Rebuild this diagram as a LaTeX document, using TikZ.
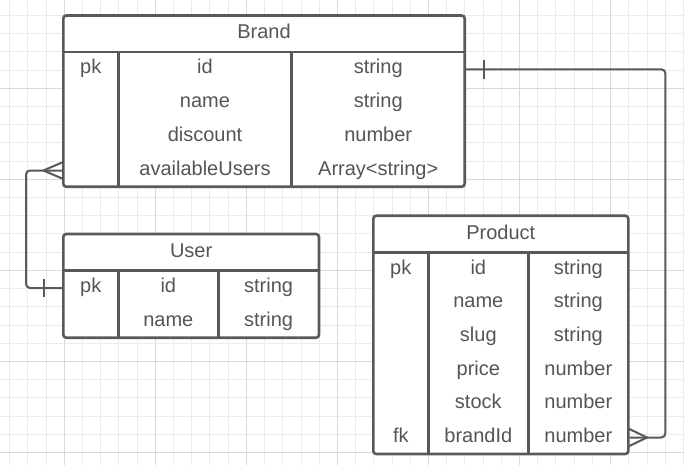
\documentclass[tikz,border=0pt]{standalone}
\usepackage{fontspec}
\setmainfont{Liberation Sans}
\definecolor{ink}{HTML}{595959}
\definecolor{txt}{HTML}{555555}
\definecolor{gmin}{HTML}{EBEBEB}
\definecolor{gmaj}{HTML}{D8D8D8}
\begin{document}
\begin{tikzpicture}[x=1pt,y=-1pt,
  tbl/.style={draw=ink, fill=white, line width=2.6pt, rounded corners=3pt, inner sep=0pt},
  lbl/.style={anchor=base, text=txt, font=\fontsize{20}{24}\selectfont, inner sep=0pt},
  div/.style={draw=ink, line width=2.6pt},
  conn/.style={draw=ink, line width=2pt},
  gridminor/.style={draw=gmin, line width=1pt},
  gridmajor/.style={draw=gmaj, line width=1pt}]
\useasboundingbox (0,0) rectangle (684,465);
\fill[white] (0,0) rectangle (684,465);
\begin{scope}
\clip (0,0) rectangle (684,465);
\foreach \i in {-4,...,34} \draw[gridminor] ({64.3+\i*18.21},0) -- ({64.3+\i*18.21},465);
\foreach \i in {-5,...,21} \draw[gridminor] (0,{88.3+\i*18.21}) -- (684,{88.3+\i*18.21});
\foreach \i in {0,...,6} \draw[gridmajor] ({64.3+\i*91.05},0) -- ({64.3+\i*91.05},465);
\foreach \i in {-1,...,4} \draw[gridmajor] (0,{88.3+\i*91.05}) -- (684,{88.3+\i*91.05});
\end{scope}

% Brand
\node[tbl, minimum width=401.4pt, minimum height=171.2pt] (brand) at (264,101.1) {};
\draw[div] (63.3,52) -- (464.7,52);
\draw[div] (118.3,52) -- (118.3,186.7);
\draw[div] (291.7,52) -- (291.7,186.7);
\node[lbl] (bh) at (264,39) {Brand};
\node[lbl] (bpk) at (90.8,74) {pk};
\node[lbl] (bid) at (205,74) {id};
\node[lbl] (bname) at (205,107.7) {name};
\node[lbl] (bdisc) at (205,141.4) {discount};
\node[lbl] (bav) at (205,175.1) {availableUsers};
\node[lbl] (bt1) at (378.2,74) {string};
\node[lbl] (bt2) at (378.2,107.7) {string};
\node[lbl] (bt3) at (378.2,141.4) {number};
\node[lbl] (bt4) at (378.2,175.1) {Array<string>};

% User
\node[tbl, minimum width=255.7pt, minimum height=103.7pt] (user) at (191.15,285.85) {};
\draw[div] (63.3,270.5) -- (319,270.5);
\draw[div] (118.3,270.5) -- (118.3,337.7);
\draw[div] (218.3,270.5) -- (218.3,337.7);
\node[lbl] (uh) at (191.15,257) {User};
\node[lbl] (upk) at (90.8,292.5) {pk};
\node[lbl] (uid) at (168.3,292.5) {id};
\node[lbl] (uname) at (168.3,326.2) {name};
\node[lbl] (ut1) at (268.6,292.5) {string};
\node[lbl] (ut2) at (268.6,326.2) {string};

% Product
\node[tbl, minimum width=255pt, minimum height=238.3pt] (product) at (500.8,334.85) {};
\draw[div] (373.3,252.3) -- (628.3,252.3);
\draw[div] (428.3,252.3) -- (428.3,454);
\draw[div] (528.3,252.3) -- (528.3,454);
\node[lbl] (ph) at (500.8,239) {Product};
\node[lbl] (ppk) at (400.8,274.3) {pk};
\node[lbl] (pfk) at (400.8,442.3) {fk};
\node[lbl] (pid) at (478.3,274.3) {id};
\node[lbl] (pname) at (478.3,307.9) {name};
\node[lbl] (pslug) at (478.3,341.5) {slug};
\node[lbl] (pprice) at (478.3,375.1) {price};
\node[lbl] (pstock) at (478.3,408.7) {stock};
\node[lbl] (pbrand) at (478.3,442.3) {brandId};
\node[lbl] (pt1) at (578.3,274.3) {string};
\node[lbl] (pt2) at (578.3,307.9) {string};
\node[lbl] (pt3) at (578.3,341.5) {string};
\node[lbl] (pt4) at (578.3,375.1) {number};
\node[lbl] (pt5) at (578.3,408.7) {number};
\node[lbl] (pt6) at (578.3,442.3) {number};

% connector Brand.id -> Product.brandId
\coordinate (c1s) at (brand.east |- 0,69.3);
\coordinate (c1a) at (665.3,69.3);
\coordinate (c1b) at (665.3,437.5);
\coordinate (c1e) at (product.east |- 0,437.5);
\draw[conn, rounded corners=4pt] (c1s) -- (c1a) -- (c1b) -- (c1e);
\draw[conn] (484,60) -- (484,78.7);
\draw[conn] (628.3,428.5) -- (647,437.5) -- (628.3,446.5);

% connector User.id -> Brand.availableUsers
\coordinate (c2s) at (brand.west |- 0,170.5);
\coordinate (c2a) at (26,170.5);
\coordinate (c2b) at (26,288);
\coordinate (c2e) at (user.west |- 0,288);
\draw[conn, rounded corners=4pt] (c2s) -- (c2a) -- (c2b) -- (c2e);
\draw[conn] (44,279.3) -- (44,296.7);
\draw[conn] (63.3,162) -- (43.3,170.5) -- (63.3,179);
\end{tikzpicture}
\end{document}
